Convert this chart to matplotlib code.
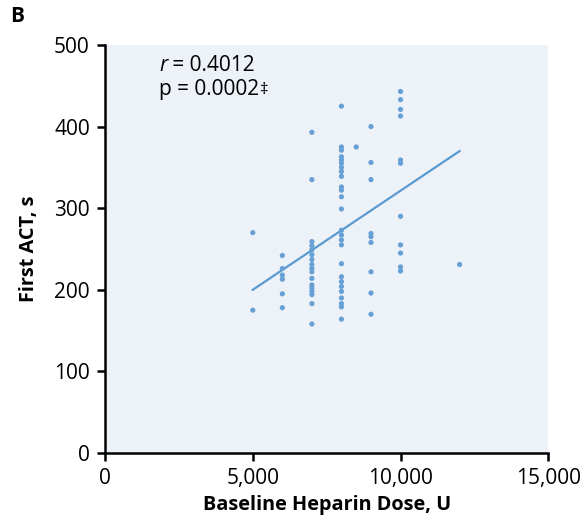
import matplotlib
matplotlib.use("Agg")
import matplotlib.pyplot as plt

plt.rcParams['font.family'] = ['Open Sans', 'DejaVu Sans']

# Data (Baseline heparin dose in U, First ACT in s)
dose_5000 = [270, 175]
dose_6000 = [242, 226, 218, 213, 195, 178]
dose_7000 = [393, 335, 259, 254, 249, 243, 237, 231, 226, 222, 214, 206, 202, 198, 194, 183, 158]
dose_8000 = [425, 375, 371, 363, 359, 355, 350, 345, 339, 326, 322, 314, 299, 273, 267, 261,
             255, 232, 216, 210, 204, 198, 190, 183, 179, 164]
dose_8500 = [375]
dose_9000 = [400, 356, 335, 269, 265, 258, 222, 196, 170]
dose_10000 = [443, 433, 421, 413, 359, 355, 290, 255, 245, 228, 223]
dose_12000 = [231]

groups = {5000: dose_5000, 6000: dose_6000, 7000: dose_7000, 8000: dose_8000,
          8500: dose_8500, 9000: dose_9000, 10000: dose_10000, 12000: dose_12000}

fit_x = [5000, 12000]
fit_y = [200, 370]

x_ticks = [0, 5000, 10000, 15000]
x_tick_labels = ['0', '5,000', '10,000', '15,000']
y_ticks = [0, 100, 200, 300, 400, 500]

xs, ys = [], []
for d, vals in groups.items():
    xs += [d] * len(vals)
    ys += vals

fig = plt.figure(figsize=(5.87, 5.29), dpi=100)
ax = fig.add_axes([0.179, 0.1437, 0.755, 0.7713])
ax.set_facecolor('#edf2f9')
fig.patch.set_facecolor('white')

ax.scatter(xs, ys, s=14, color='#66a0d4', edgecolors='none', zorder=3)
ax.plot(fit_x, fit_y, color='#5a9ad0', lw=1.6, zorder=2)

ax.set_xlim(0, 15000)
ax.set_ylim(0, 500)
ax.set_xticks(x_ticks)
ax.set_xticklabels(x_tick_labels)
ax.set_yticks(y_ticks)

for s in ['top', 'right']:
    ax.spines[s].set_visible(False)
for s in ['left', 'bottom']:
    ax.spines[s].set_linewidth(1.8)
    ax.spines[s].set_color('black')
ax.tick_params(axis='both', direction='out', length=6, width=1.8, labelsize=15,
               colors='black')
ax.tick_params(axis='x', pad=5)
ax.tick_params(axis='y', pad=5)

ax.set_xlabel('Baseline Heparin Dose, U', fontsize=14.3, fontweight='bold', labelpad=4)
ax.set_ylabel('First ACT, s', fontsize=14.3, fontweight='bold', labelpad=11)

t1 = ax.text(0.122, 0.949, 'r', style='italic', transform=ax.transAxes, fontsize=15, va='center')
ax.annotate(' = 0.4012', xy=(1, 0.5), xycoords=t1, fontsize=15, va='center', ha='left')
t2 = ax.text(0.122, 0.89, 'p = 0.0002', transform=ax.transAxes, fontsize=15, va='center')
ax.annotate('\u2021', xy=(1, 0.86), xycoords=t2, xytext=(0.5, 0), textcoords='offset points',
            fontsize=12, va='top', ha='left')

fig.text(0.017, 0.968, 'B', fontsize=15, fontweight='bold', va='center')

fig.savefig('out.png', dpi=100)
